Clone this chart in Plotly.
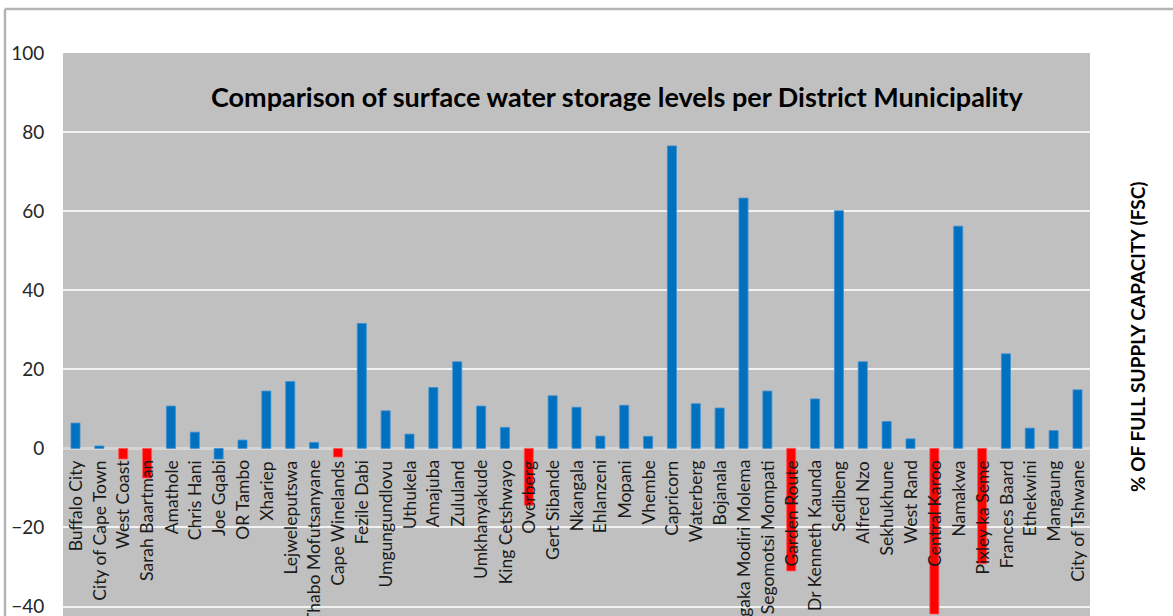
import plotly.graph_objects as go

# District municipalities, left to right
districts = [
    "Buffalo City", "City of Cape Town", "West Coast", "Sarah Baartman", "Amathole",
    "Chris Hani", "Joe Gqabi", "OR Tambo", "Xhariep", "Lejweleputswa",
    "Thabo Mofutsanyane", "Cape Winelands", "Fezile Dabi", "Umgungundlovu", "Uthukela",
    "Amajuba", "Zululand", "Umkhanyakude", "King Cetshwayo", "Overberg",
    "Gert Sibande", "Nkangala", "Ehlanzeni", "Mopani", "Vhembe",
    "Capricorn", "Waterberg", "Bojanala", "Ngaka Modiri Molema", "Dr Ruth Segomotsi Mompati",
    "Garden Route", "Dr Kenneth Kaunda", "Sedibeng", "Alfred Nzo", "Sekhukhune",
    "West Rand", "Central Karoo", "Namakwa", "Pixley ka Seme", "Frances Baard",
    "Ethekwini", "Mangaung", "City of Tshwane",
]

# Change in storage level, % of full supply capacity
storage_pct = [
    6.4, 0.6, -2.7, -7.5, 10.7,
    4.1, -2.7, 2.1, 14.5, 16.9,
    1.5, -2.2, 31.6, 9.5, 3.6,
    15.4, 21.9, 10.7, 5.3, -14.4,
    13.3, 10.4, 3.1, 10.9, 3.05,
    76.5, 11.3, 10.2, 63.3, 14.5,
    -31.0, 12.5, 60.1, 21.9, 6.8,
    2.4, -41.9, 56.2, -29.2, 23.9,
    5.1, 4.5, 14.8,
]

# Districts highlighted in red
flagged = ["West Coast", "Sarah Baartman", "Cape Winelands", "Overberg",
           "Garden Route", "Central Karoo", "Pixley ka Seme"]

y_ticks = [100, 80, 60, 40, 20, 0, -20, -40]

title_text = "Comparison of surface water storage levels per District Municipality"
axis_title = "% OF FULL SUPPLY CAPACITY (FSC)"

BLUE = "#0070C0"
RED = "#FF0000"
colors = [RED if d in flagged else BLUE for d in districts]
edges = ["#ff5a5a" if d in flagged else "#3f8fd0" for d in districts]

W, H = 1173, 616
ML, MR, MT, MB = 63, 83, 53, 0
pw, ph = W - ML - MR, H - MT - MB


def px_x(p):
    return (p - ML) / pw


def px_y(p):
    return (H - MB - p) / ph


fig = go.Figure()
fig.add_trace(go.Bar(
    x=districts,
    y=storage_pct,
    marker=dict(color=colors, line=dict(color=edges, width=0.8)),
    hoverinfo="x+y",
))

annotations = []
# category labels sit just below the zero line, reading upwards
for d in districts:
    annotations.append(dict(
        x=d, y=0, xref="x", yref="y",
        text=d, showarrow=False, textangle=-90,
        xanchor="center", yanchor="top", yshift=-10,
        font=dict(family="Lato", size=17.5, color="#1a1a1a"),
    ))

annotations.append(dict(
    x=px_x(617), y=px_y(96), xref="paper", yref="paper",
    text=f"<b>{title_text}</b>", showarrow=False,
    xanchor="center", yanchor="middle",
    font=dict(family="Lato", size=27, color="#000000"),
))
annotations.append(dict(
    x=px_x(1137), y=px_y(337), xref="paper", yref="paper",
    text=f"<b>{axis_title}</b>", showarrow=False, textangle=-90,
    xanchor="center", yanchor="middle",
    font=dict(family="Lato", size=19, color="#000000"),
))

shapes = [
    # outer chart frame (left and top edges)
    dict(type="line", xref="paper", yref="paper",
         x0=px_x(5), x1=px_x(5), y0=px_y(9), y1=px_y(640),
         line=dict(color="#b4b4b4", width=2.5)),
    dict(type="line", xref="paper", yref="paper",
         x0=px_x(5), x1=px_x(1200), y0=px_y(9), y1=px_y(9),
         line=dict(color="#b4b4b4", width=2.5)),
]

fig.update_layout(
    width=W, height=H,
    margin=dict(l=ML, r=MR, t=MT, b=MB, pad=0),
    paper_bgcolor="white",
    plot_bgcolor="#C0C0C0",
    bargap=0.62,
    showlegend=False,
    annotations=annotations,
    shapes=shapes,
    font=dict(family="Lato"),
)
fig.update_xaxes(showticklabels=False, showgrid=False, ticks="",
                 showline=False, zeroline=False)
fig.update_yaxes(
    range=[-42.4, 100], tickvals=y_ticks,
    ticks="outside", ticklen=14, tickcolor="rgba(0,0,0,0)",
    tickfont=dict(family="Lato", size=19, color="#262626"),
    ticklabeloverflow="allow",
    showgrid=True, gridcolor="#f2f2f2", gridwidth=1.5,
    zeroline=True, zerolinecolor="#d6d6d6", zerolinewidth=2.5,
    showline=False,
)

fig.write_html("out.html")
